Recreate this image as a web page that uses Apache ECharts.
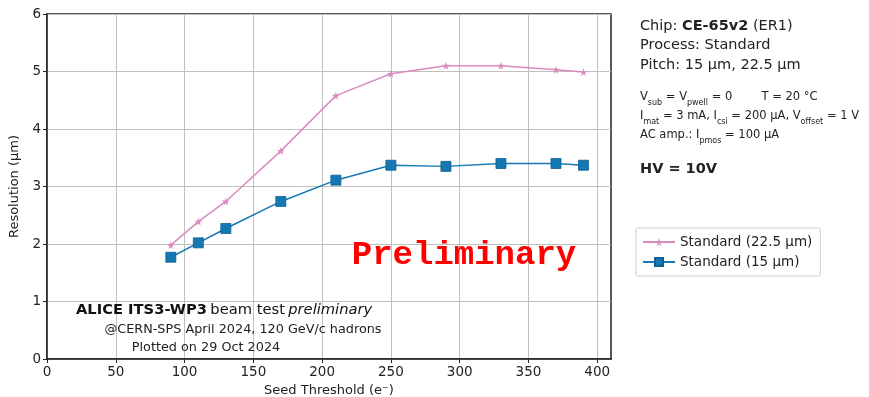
<!DOCTYPE html>
<html>
<head>
<meta charset="utf-8">
<script src="https://cdn.jsdelivr.net/npm/echarts@6/dist/echarts.min.js"></script>
<style>
  html, body { margin: 0; padding: 0; background: #fff; }
  #chart { width: 869px; height: 397px; }
</style>
</head>
<body>
<div id="chart"></div>
<script>
// Seed threshold scan (electrons)
const thresholds = [90, 110, 130, 170, 210, 250, 290, 330, 370, 390];
// Spatial resolution (µm) per pitch
const resPitch225 = [1.98, 2.39, 2.74, 3.62, 4.58, 4.96, 5.10, 5.10, 5.03, 4.99];
const resPitch15  = [1.77, 2.02, 2.27, 2.74, 3.11, 3.37, 3.35, 3.40, 3.40, 3.37];
const seriesNames = ['Standard (22.5 µm)', 'Standard (15 µm)'];
const xTicks = [0, 50, 100, 150, 200, 250, 300, 350, 400];

const pink = '#d98bbf';
const blue = '#1479b3';
const starPath = 'path://M50,0 L61,35 L98,35 L68,57 L79,91 L50,70 L21,91 L32,57 L2,35 L39,35 Z';
const font = '"DejaVu Sans", sans-serif';

const chart = echarts.init(document.getElementById('chart'), null, { renderer: 'canvas' });

const sub = { fontSize: 8, fontFamily: font, color: '#222', verticalAlign: 'bottom', padding: [4, 0, 0, 0] };

chart.setOption({
  animation: false,
  backgroundColor: '#fff',
  textStyle: { fontFamily: font },
  grid: {
    left: 47, top: 14, right: 258, bottom: 38,
    outerBoundsMode: 'none', containLabel: false,
    show: true, borderColor: '#222', borderWidth: 1.5, backgroundColor: 'transparent'
  },
  xAxis: {
    type: 'value', min: 0, max: 410, interval: 50,
    name: 'Seed Threshold (e⁻)', nameLocation: 'middle', nameGap: 25,
    nameTextStyle: { fontSize: 13, color: '#222', fontFamily: font },
    axisLine: { show: true, lineStyle: { color: '#222', width: 1.5 } },
    axisTick: { show: true, length: 4, lineStyle: { color: '#222' }, customValues: xTicks },
    axisLabel: { fontSize: 13.5, color: '#222', margin: 6, customValues: xTicks },
    splitLine: { show: true, lineStyle: { color: '#c0c0c0', width: 1 } }
  },
  yAxis: {
    type: 'value', min: 0, max: 6, interval: 1,
    name: 'Resolution (µm)', nameLocation: 'middle', nameGap: 24,
    nameTextStyle: { fontSize: 13, color: '#222', fontFamily: font },
    axisLine: { show: true, lineStyle: { color: '#222', width: 1.5 } },
    axisTick: { show: true, length: 4, lineStyle: { color: '#222' } },
    axisLabel: { fontSize: 13.5, color: '#222', margin: 6 },
    splitLine: { show: true, lineStyle: { color: '#c0c0c0', width: 1 } }
  },
  legend: {
    orient: 'vertical', left: 636, top: 228,
    padding: [7, 8, 7, 6], itemGap: 6, itemWidth: 32, itemHeight: 10,
    borderColor: '#d0d0d0', borderWidth: 1, borderRadius: 2,
    textStyle: { fontSize: 13.5, color: '#222', fontFamily: font },
    data: seriesNames
  },
  series: [
    {
      name: seriesNames[0], type: 'line',
      data: thresholds.map((t, i) => [t, resPitch225[i]]),
      symbol: starPath, symbolSize: 8,
      itemStyle: { color: pink },
      lineStyle: { color: pink, width: 1.5 },
      z: 3
    },
    {
      name: seriesNames[1], type: 'line',
      data: thresholds.map((t, i) => [t, resPitch15[i]]),
      symbol: 'rect', symbolSize: 10,
      itemStyle: { color: blue, borderColor: '#0d5f8f', borderWidth: 0.8 },
      lineStyle: { color: blue, width: 1.5 },
      z: 4
    }
  ],
  graphic: [
    // beam-test annotation inside the axes
    {
      type: 'text', left: 76, top: 303, z: 10,
      style: {
        text: '{b|ALICE ITS3-WP3} {n|beam test} {i|preliminary}',
        rich: {
          b: { fontSize: 14.7, fontWeight: 'bold', fontFamily: font, fill: '#111' },
          n: { fontSize: 14.7, fontFamily: font, fill: '#111' },
          i: { fontSize: 14.7, fontStyle: 'italic', fontFamily: font, fill: '#111' }
        }
      }
    },
    {
      type: 'text', x: 243, y: 330, z: 10,
      style: { text: '@CERN-SPS April 2024, 120 GeV/c hadrons', font: '12.8px "DejaVu Sans"', fill: '#222', align: 'center', verticalAlign: 'middle' }
    },
    {
      type: 'text', x: 206, y: 348, z: 10,
      style: { text: 'Plotted on 29 Oct 2024', font: '12.8px "DejaVu Sans"', fill: '#222', align: 'center', verticalAlign: 'middle' }
    },
    {
      type: 'text', x: 464, y: 255, z: 10,
      style: { text: 'Preliminary', font: 'bold 34px "Liberation Mono"', fill: '#ff0000', align: 'center', verticalAlign: 'middle' }
    },
    // run conditions panel
    {
      type: 'text', left: 640, top: 16, z: 10,
      style: {
        text: 'Chip: {b|CE-65v2} (ER1)\nProcess: Standard\nPitch: 15 µm, 22.5 µm',
        font: '14.5px "DejaVu Sans"', fill: '#222', lineHeight: 19.5,
        rich: { b: { fontSize: 14.5, fontWeight: 'bold', fontFamily: font, fill: '#222' } }
      }
    },
    {
      type: 'text', left: 640, top: 88, z: 10,
      style: {
        text: 'V{s|sub} = V{s|pwell} = 0        T = 20 °C\n' +
              'I{s|mat} = 3 mA, I{s|csi} = 200 µA, V{s|offset} = 1 V\n' +
              'AC amp.: I{s|pmos} = 100 µA',
        font: '11.5px "DejaVu Sans"', fill: '#222', lineHeight: 19,
        rich: { s: sub }
      }
    },
    {
      type: 'text', left: 640, top: 162, z: 10,
      style: { text: 'HV = 10V', font: 'bold 14.5px "DejaVu Sans"', fill: '#222' }
    }
  ]
});
</script>
</body>
</html>
